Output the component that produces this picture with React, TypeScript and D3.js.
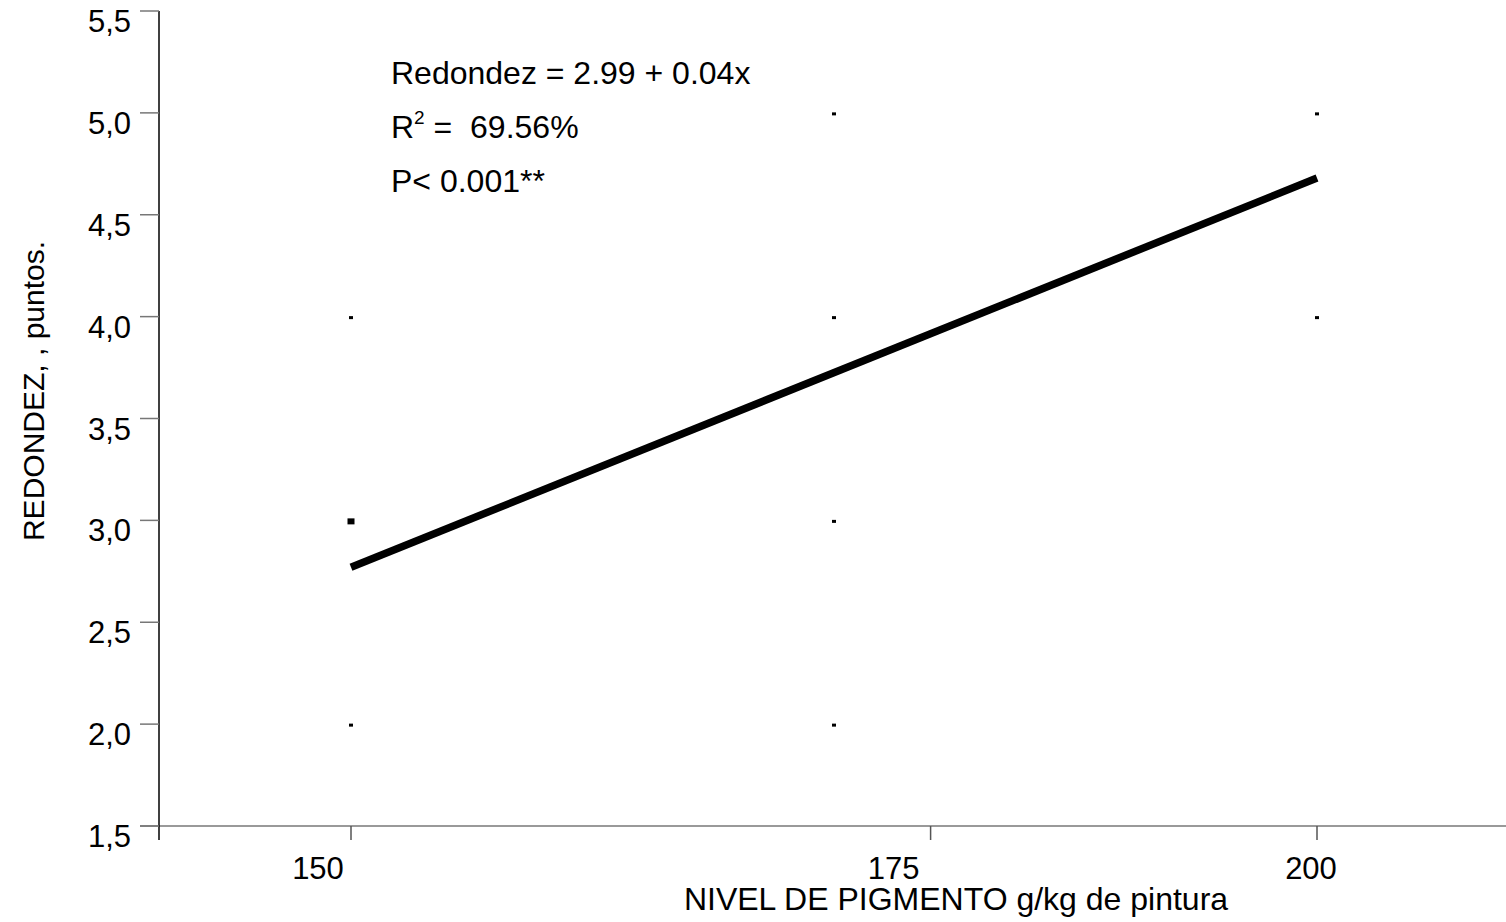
import React from "react";
import * as d3 from "d3";

// Observed roundness scores per pigment level
const obsLevel = [150, 150, 150, 150, 175, 175, 175, 175, 200, 200];
const obsScore = [4.0, 3.0, 3.0, 2.0, 5.0, 4.0, 3.0, 2.0, 5.0, 4.0];

// Fitted regression line endpoints
const fitLevel = [150, 200];
const fitScore = [2.77, 4.68];

// Axis ticks
const yTicks = [1.5, 2.0, 2.5, 3.0, 3.5, 4.0, 4.5, 5.0, 5.5];
const xTickValues = [150, 180, 200];
const xTickLabels = ["150", "175", "200"];
const xLabelShift = [-33, -37, -6];

const W = 1506;
const H = 922;
const FONT = "'Liberation Sans', Arial, Helvetica, sans-serif";

export default function App() {
  const x = d3.scaleLinear().domain([150, 200]).range([351, 1317]);
  const y = d3.scaleLinear().domain([1.5, 5.5]).range([826, 11]);

  const axisX = 159;
  const axisY = y(1.5);

  // group duplicate observations so repeated points render larger
  const counts = d3.rollup(
    obsLevel.map((l, i) => [l, obsScore[i]] as [number, number]),
    (v) => v.length,
    (d) => `${d[0]}|${d[1]}`
  );
  const pts = Array.from(counts, ([k, n]) => {
    const [l, s] = k.split("|").map(Number);
    return { l, s, n };
  });

  const line = d3
    .line<number>()
    .x((_, i) => x(fitLevel[i]))
    .y((d) => y(d));

  return (
    <svg
      width={W}
      height={H}
      style={{ position: "absolute", left: 0, top: 0, background: "#fff" }}
      fontFamily={FONT}
    >
      {/* x axis */}
      <line x1={140} x2={W} y1={axisY} y2={axisY} stroke="#777" strokeWidth={1.5} />
      {xTickValues.map((v, i) => (
        <g key={v}>
          <line x1={x(v)} x2={x(v)} y1={axisY} y2={840} stroke="#555" strokeWidth={1.5} />
          <text
            x={x(v) + xLabelShift[i]}
            y={879}
            textAnchor="middle"
            fontSize={31}
            fill="#000"
          >
            {xTickLabels[i]}
          </text>
        </g>
      ))}

      {/* y axis */}
      <line x1={axisX} x2={axisX} y1={y(5.5)} y2={840} stroke="#000" strokeWidth={1.5} />
      {yTicks.map((v) => (
        <g key={v}>
          <line x1={140} x2={axisX} y1={y(v)} y2={y(v)} stroke="#777" strokeWidth={1.5} />
          <text x={131} y={y(v) + 21} textAnchor="end" fontSize={31} fill="#000">
            {d3.format(".1f")(v).replace(".", ",")}
          </text>
        </g>
      ))}

      {/* observations */}
      {pts.map((p) => {
        const w = p.n > 1 ? 7 : 4;
        const h = p.n > 1 ? 6 : 3;
        return (
          <rect
            key={`${p.l}-${p.s}`}
            x={x(p.l) - w / 2}
            y={y(p.s) - h / 2 + 1}
            width={w}
            height={h}
            fill="#000"
          />
        );
      })}

      {/* regression line */}
      <path d={line(fitScore) || ""} fill="none" stroke="#000" strokeWidth={7.5} strokeLinecap="butt" />

      {/* equation */}
      <text x={391} y={84} fontSize={32} fill="#000">
        Redondez = 2.99 + 0.04x
      </text>
      <text x={391} y={138} fontSize={32} fill="#000" xmlSpace="preserve">
        R<tspan fontSize={19} dy={-14}>2</tspan>
        <tspan dy={14}>{" =  69.56%"}</tspan>
      </text>
      <text x={391} y={192} fontSize={32} fill="#000">
        P{"< 0.001**"}
      </text>

      {/* axis titles */}
      <text x={956} y={910} textAnchor="middle" fontSize={32} fill="#000">
        NIVEL DE PIGMENTO g/kg de pintura
      </text>
      <text
        transform={`translate(44, ${391}) rotate(-90)`}
        textAnchor="middle"
        fontSize={30}
        fill="#000"
      >
        REDONDEZ, , puntos.
      </text>
    </svg>
  );
}
